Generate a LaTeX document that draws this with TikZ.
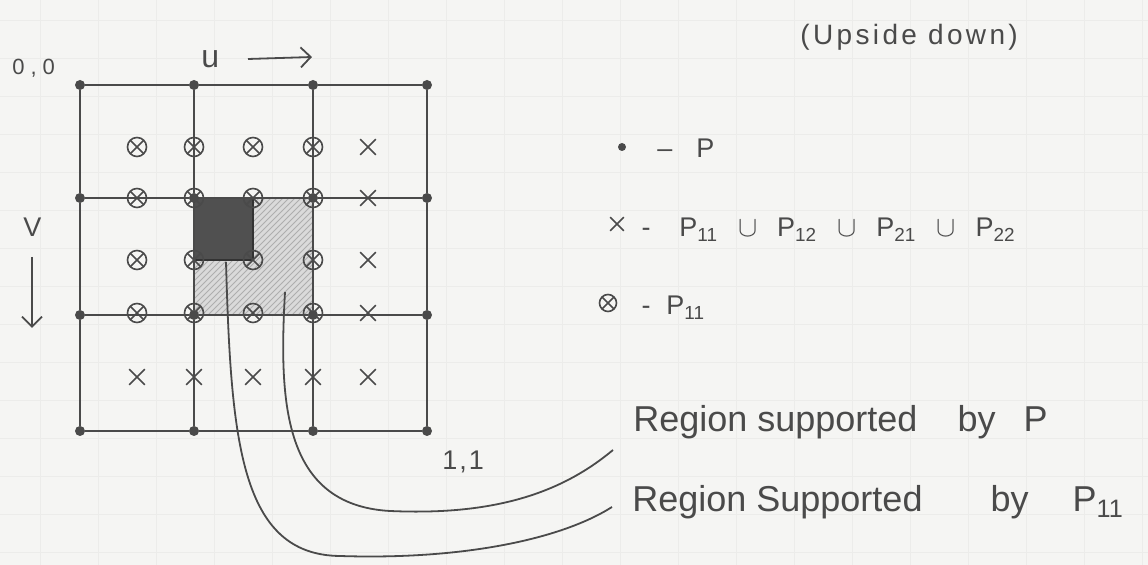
\documentclass[tikz,border=0pt]{standalone}
\usepackage{fontspec}
\setmainfont{Liberation Sans}
\newfontfamily\handfont[LetterSpace=12]{Liberation Sans}
\usetikzlibrary{patterns,shapes.misc,arrows.meta}
\definecolor{ink}{HTML}{4A4A4A}
\definecolor{paper}{HTML}{F5F5F3}
\definecolor{papergrid}{HTML}{ECECEA}
\definecolor{lightshade}{HTML}{DADADA}
\definecolor{darkshade}{HTML}{505050}
\newcommand{\lgsep}{\hspace{10pt}}
\begin{document}
\begin{tikzpicture}[x=0.5pt,y=-0.5pt,
  txt/.style={text=ink, inner sep=0pt, font=\fontsize{13.5}{16}\selectfont},
  htxt/.style={text=ink, inner sep=0pt, font=\handfont\fontsize{14}{17}\selectfont},
  bigtxt/.style={text=ink, inner sep=0pt, font=\fontsize{18}{21}\selectfont},
  gridline/.style={draw=ink, line width=1.1pt},
  leader/.style={draw=ink, line width=0.9pt},
  dotP/.style={circle, fill=ink, inner sep=0pt, minimum size=5pt},
  crossP/.style={cross out, draw=ink, line width=0.8pt, inner sep=0pt, minimum size=7pt},
  otimesP/.style={circle, draw=ink, line width=0.8pt, inner sep=0pt, minimum size=9.5pt,
    path picture={\draw[ink, line width=0.8pt]
      (path picture bounding box.south west) -- (path picture bounding box.north east)
      (path picture bounding box.north west) -- (path picture bounding box.south east);}}
]
% paper
\fill[paper] (0,0) rectangle (1148,565);
\useasboundingbox (0,0) rectangle (1148,565);
\foreach \yy in {20,58,96,134,172,210,248,286,324,362,400,438,476,514,552}
  \draw[papergrid, line width=0.4pt] (0,\yy) -- (1148,\yy);
\foreach \xx in {40,98,156,214,272,330,388,446,504,562,620,678,736,794,852,910,968,1026,1084,1142}
  \draw[papergrid, line width=0.3pt] (\xx,0) -- (\xx,565);

% shaded regions
\fill[lightshade] (194,198) rectangle (313,315);
\fill[pattern=north east lines, pattern color=ink!45] (194,198) rectangle (313,315);
\filldraw[fill=darkshade, draw=black!80, line width=1.2pt] (194,198) rectangle (253,260);

% grid intersections (P)
\foreach \gx [count=\i] in {80,194,313,427}
  \foreach \gy [count=\j] in {85,198,315,431}
    \node[dotP] (p-\j-\i) at (\gx,\gy) {};

% grid lines
\foreach \j in {1,...,4} {
  \draw[gridline] (p-\j-1) -- (p-\j-2) -- (p-\j-3) -- (p-\j-4);
  \draw[gridline] (p-1-\j) -- (p-2-\j) -- (p-3-\j) -- (p-4-\j);
}

% markers
\foreach \mx [count=\c] in {137,194,253,313,368}
  \foreach \my [count=\r] in {147,198,260,313,377} {
    \ifnum\r<5 \ifnum\c<5
      \node[otimesP] (m-\r-\c) at (\mx,\my) {};
    \else
      \node[crossP] (m-\r-\c) at (\mx,\my) {};
    \fi \else
      \node[crossP] (m-\r-\c) at (\mx,\my) {};
    \fi
  }

% axis labels
\node[txt, anchor=base west, font=\fontsize{11}{13}\selectfont] (o00) at (12,75) {0\hspace{3pt},\hspace{3pt}0};
\node[txt, anchor=base west, font=\fontsize{16}{19}\selectfont] (ulab) at (201,68) {u};
\coordinate (ua) at (248,59);
\coordinate (ub) at (312,57);
\draw[leader, -{Straight Barb[length=5pt]}] (ua) -- (ub);
\node[txt, anchor=base west] (vlab) at (23,237) {V};
\coordinate (va) at (32,257);
\coordinate (vb) at (32,328);
\draw[leader, -{Straight Barb[length=5pt]}] (va) -- (vb);
\node[txt, anchor=base west] (o11) at (442,470) {1\hspace{1pt},\hspace{1pt}1};

\node[htxt, anchor=base west] (upside) at (800,45) {(Upside down)};

% legend
\node[dotP, minimum size=4pt] (lgdot) at (622,147) {};
\node[txt, anchor=base] (lgd1) at (665,158) {--};
\node[txt, anchor=base west] (lgP) at (696,158) {P};
\node[crossP, minimum size=6pt] (lgx) at (617,224) {};
\node[txt, anchor=base] (lgd2) at (646,237) {-};
\node[txt, anchor=base west] (lgU) at (679,237) {P\textsubscript{11}\lgsep$\cup$\lgsep P\textsubscript{12}\lgsep$\cup$\lgsep P\textsubscript{21}\lgsep$\cup$\lgsep P\textsubscript{22}};
\node[otimesP, minimum size=8.5pt] (lgo) at (608,303) {};
\node[txt, anchor=base] (lgd3) at (646,315) {-};
\node[txt, anchor=base west] (lgP11) at (666,315) {P\textsubscript{11}};

% region labels
\node[bigtxt, anchor=base west] (rp) at (633,432) {Region supported\hspace{20pt}by\hspace{14pt}P};
\node[bigtxt, anchor=base west] (rs) at (632,512) {Region Supported\hspace{34pt}by\hspace{22pt}P\textsubscript{11}};

% leaders
\coordinate (s1) at (226,262);
\coordinate (s2) at (285,292);
\draw[leader] (s2) .. controls (279,400) and (282,505) .. (390,511)
  .. controls (500,516) and (565,490) .. ([xshift=-10pt,yshift=-9pt]rp.base west);
\draw[leader] (s1) .. controls (231,440) and (240,555) .. (340,556)
  .. controls (460,560) and (560,540) .. ([xshift=-10pt,yshift=2.5pt]rs.base west);
\end{tikzpicture}
\end{document}
